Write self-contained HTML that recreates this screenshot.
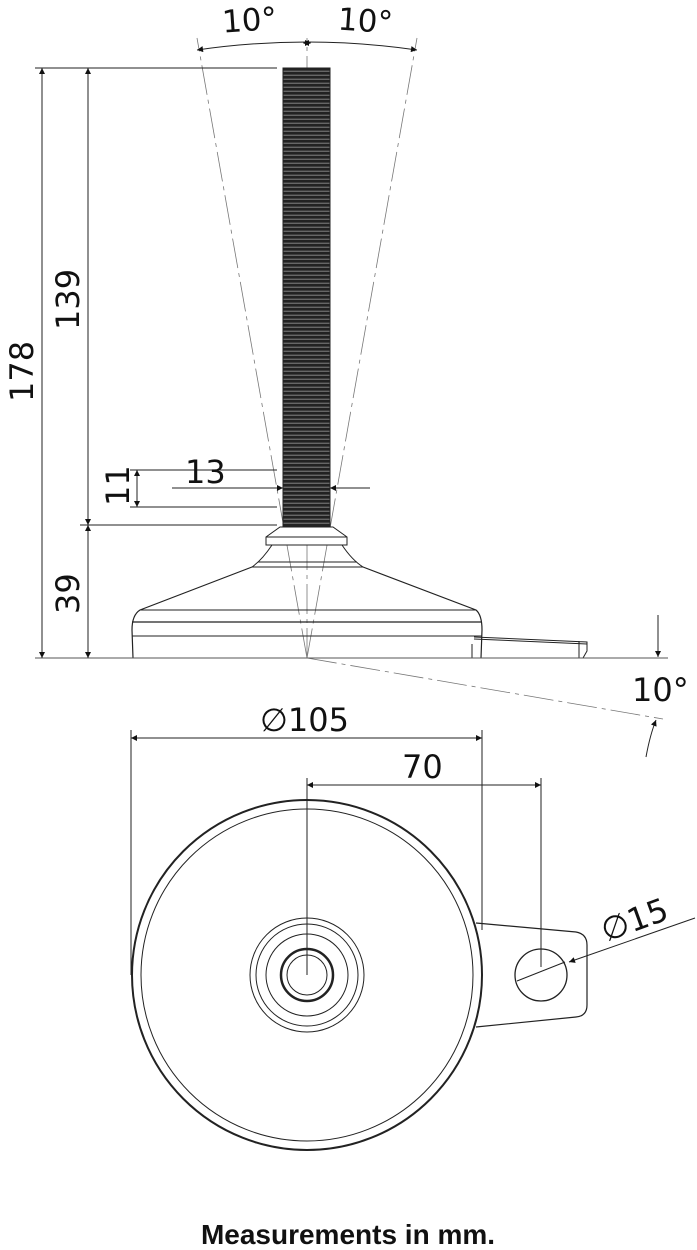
<!DOCTYPE html>
<html><head><meta charset="utf-8"><style>
html,body{margin:0;padding:0;background:#fff;width:697px;height:1250px;overflow:hidden}
svg{display:block}
text{font-family:"DejaVu Sans","Liberation Sans",sans-serif;fill:#111}
</style></head><body>
<svg width="697" height="1250" viewBox="0 0 697 1250" xmlns="http://www.w3.org/2000/svg">
<defs>
<pattern id="thr" x="0" y="68" width="6" height="4" patternUnits="userSpaceOnUse">
<rect width="6" height="4" fill="#666"/><rect y="0" width="6" height="2.6" fill="#222"/>
</pattern>
<marker id="ar" viewBox="0 0 10 10" refX="10" refY="5" markerWidth="9" markerHeight="6" orient="auto-start-reverse" markerUnits="userSpaceOnUse"><path d="M0,0 L10,5 L0,10 z" fill="#111"/></marker>
</defs>
<g fill="none" stroke="#222" stroke-width="1">
<g stroke="#777" stroke-dasharray="30,5,4,5" stroke-width="0.8">
<line x1="307" y1="658" x2="197" y2="38"/>
<line x1="307" y1="658" x2="417" y2="38"/>
<line x1="307" y1="658" x2="307" y2="38"/>
<line x1="307" y1="658" x2="663" y2="719"/>
</g>
<path d="M197,50 Q307,34 417,50" marker-start="url(#ar)" marker-end="url(#ar)"/>
<line x1="303" y1="43" x2="311" y2="43" marker-start="url(#ar)" marker-end="url(#ar)" stroke-width="0.5"/>
<rect x="283" y="68" width="47" height="459" fill="url(#thr)" stroke="#222"/>
<path d="M280,527 L333,527 L347,537 L347,545 L266,545 L266,537 Z" fill="#fff"/>
<line x1="266" y1="537" x2="347" y2="537"/>
<path d="M272,545 Q262,560 252,567 L363,567 Q352,560 342,545"/>
<line x1="258" y1="562" x2="357" y2="562"/>
<path d="M252,567 L140,610 Q132,615 132,630 L133,658 M363,567 L476,610 Q482,615 482,630 L481,658" stroke-width="1.2"/>
<line x1="140" y1="610" x2="476" y2="610"/>
<line x1="132" y1="622" x2="482" y2="622" stroke-width="1.2"/>
<line x1="132" y1="636" x2="482" y2="636"/>
<path d="M474,637 L587,642 L587,651 L583,658 M472,644 L472,658 M579,641 L579,658"/>
<line x1="474" y1="639" x2="587" y2="644"/>
<line x1="35" y1="658" x2="668" y2="658" stroke="#555"/>
<line x1="35" y1="68" x2="277" y2="68"/>
<line x1="80" y1="525" x2="277" y2="525"/>
<line x1="130" y1="470" x2="277" y2="470"/>
<line x1="130" y1="507" x2="277" y2="507"/>
<line x1="42" y1="68" x2="42" y2="658" marker-start="url(#ar)" marker-end="url(#ar)"/>
<line x1="88" y1="68" x2="88" y2="525" marker-start="url(#ar)" marker-end="url(#ar)"/>
<line x1="88" y1="525" x2="88" y2="658" marker-start="url(#ar)" marker-end="url(#ar)"/>
<line x1="137" y1="470" x2="137" y2="507" marker-start="url(#ar)" marker-end="url(#ar)"/>
<line x1="172" y1="488" x2="283" y2="488" marker-end="url(#ar)"/>
<line x1="370" y1="488" x2="330" y2="488" marker-end="url(#ar)"/>
<line x1="658" y1="615" x2="658" y2="657" marker-end="url(#ar)"/>
<path d="M646,757 Q650,735 656,720" marker-end="url(#ar)"/>
<line x1="131" y1="730" x2="131" y2="975"/>
<line x1="482" y1="730" x2="482" y2="930"/>
<line x1="131" y1="738" x2="482" y2="738" marker-start="url(#ar)" marker-end="url(#ar)"/>
<line x1="307" y1="778" x2="307" y2="975"/>
<line x1="541" y1="778" x2="541" y2="967"/>
<line x1="307" y1="785" x2="541" y2="785" marker-start="url(#ar)" marker-end="url(#ar)"/>
<circle cx="307" cy="975" r="175" stroke-width="2"/>
<circle cx="307" cy="975" r="166"/>
<circle cx="307" cy="975" r="57"/>
<circle cx="307" cy="975" r="51"/>
<circle cx="307" cy="975" r="41"/>
<circle cx="307" cy="975" r="26" stroke-width="2.5"/>
<circle cx="307" cy="975" r="20"/>
<path d="M476,923 L576,932 Q587,934 587,945 L587,1005 Q587,1016 576,1017 L476,1027" stroke-width="1.2"/>
<circle cx="541" cy="975" r="26" stroke-width="1.3"/>
<line x1="517" y1="981" x2="565" y2="962"/>
<line x1="695" y1="918" x2="569" y2="962" marker-end="url(#ar)"/>
</g>
<text x="222" y="31" font-size="31" transform="rotate(-4 245 20)">10°</text>
<text x="338" y="31" font-size="31" transform="rotate(4 360 20)">10°</text>
<text font-size="32" transform="translate(33 402) rotate(-90)">178</text>
<text font-size="32" transform="translate(79 330) rotate(-90)">139</text>
<text font-size="32" transform="translate(79 614) rotate(-90)">39</text>
<text font-size="32" transform="translate(129 506) rotate(-90)">11</text>
<text x="185" y="483" font-size="32">13</text>
<text x="632" y="701" font-size="32">10°</text>
<text x="260" y="731" font-size="32">∅105</text>
<text x="402" y="778" font-size="32">70</text>
<text font-size="32" transform="translate(606 942) rotate(-20)">∅15</text>
<text x="348" y="1244" font-size="28" font-weight="bold" text-anchor="middle" style="font-family:'Liberation Sans',sans-serif">Measurements in mm.</text>
</svg>
</body></html>
